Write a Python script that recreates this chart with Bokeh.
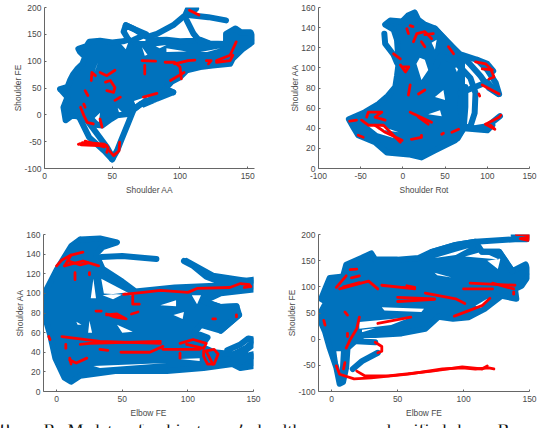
from bokeh.embed import file_html
from bokeh.resources import INLINE
from bokeh.plotting import figure
from bokeh.layouts import column, row
from bokeh.models import PrintfTickFormatter
from bokeh.core.properties import value

# ---------- Shoulder AA / Shoulder FE ----------
aa_fe_core = [(11.5,48),(17,52),(19,65),(21,75),(24,85),(28,95),(30,108),(26,118),(25,123),(31,128),(33,136),(41,138),(50,135),(58,137),(62,140),(69,132),(75,132),(78,139),(90,140),(100,137),(110,138),(115,140),(122,133),(134,132),(134,151),(141,161),(145,154),(152,154),(155,139),(152,133),(146,122),(139,105),(137,95),(124,92),(115,89),(105,83),(100,70),(94,62),(89,48),(95,42),(83,30),(71,20),(66,10),(63,2),(53.5,-1),(49,-8),(42.5,-20),(36,-18),(28,-5),(20.5,-1),(15.6,-10),(14,14),(17,33)]
aa_fe_holes = [[(55,136),(62,136),(60,122)],[(72,126),(76,112),(74,110)],[(90,124),(105,118),(90,117)],[(115,117),(130,124),(120,117)],[(66,26),(78,36),(68,14)],[(71,18),(83,24),(73,13)],[(54,13),(60,-2),(56,-4)],[(37,-6),(41,4),(40,-14)],[(38,88),(39.5,98),(37,80)],[(82,128),(90,130),(85,124)]]
aa_fe_blue = [[(25,-1),(33,-42),(44,-67),(50,-83)],[(29,-2),(46,-60),(50,-78)],[(50,-83),(53.5,-67),(56.5,-48),(62,-14),(66,11),(75,27)],[(62,140),(58.4,155),(60,167),(66,160),(75.5,145),(83,151),(95,167),(104,186),(106,198),(112,198),(106,186),(121,182),(134,176)],[(105,176),(110,151),(115,136),(121,133)],[(60,167),(66,160),(75,150),(66,140)],[(89,48),(95,42)]]
aa_fe_red = [[(25,-55),(31.5,-52),(44,-54.5),(47,-61),(46,-70)],[(27,-56),(44,-58)],[(26,-54),(44,-56)],[(28,-52),(46,-57)],[(30,-49),(44,-60)],[(55.5,-51),(55,-67),(51,-76),(48,-67)],[(41,-8),(42.5,-23)],[(26.6,14),(29,-1),(31.5,-14),(36,-17)],[(30,45),(32,36)],[(29,20),(30,14)],[(34.5,64),(35,79),(37.6,73)],[(41,79),(46,73),(52,83)],[(45,61),(48.6,64),(52,51),(51,42),(46,45)],[(52,27),(56,33)],[(72,101),(82,100)],[(74,92),(74,76)],[(89,98),(96,98),(100,89),(101,67)],[(96,95),(106,101),(111,102)],[(73,33),(83,40)],[(119.5,101),(123,101),(121,95)],[(127,101),(137,111),(141.5,136)],[(127,98),(137,101),(139,111)],[(107,195),(114,186)],[(93,64),(103,79)]]

# ---------- Shoulder Rot / Shoulder AA ----------
rot_aa_core = [(14,155),(6,152),(-1,146),(-15,147),(-21,143),(-11,138),(-7,128),(-5,105),(-7,92),(-9,81),(-18,72),(-29,64),(-45,56),(-64,49),(-58,40),(-53,33),(-33,26),(-19,16),(7,14),(22,11),(38,18),(62,28),(72,40),(68,60),(70,80),(70,105),(58,118),(50,128),(38,139),(26,143),(18,148)]
rot_aa_holes = [[(20,110),(26,108),(30,98),(22,88),(16,104)],[(30,54),(46,52),(44,58)],[(38,71),(48,78),(50,68)],[(-45,45),(-25,40),(-10,30),(-30,35)],[(-29,43),(-5,36),(-29,39)],[(62,100),(68,104),(64,96)],[(34,125),(40,128),(38,118)]]
rot_aa_blue = [[(65,30),(72,40),(100,38),(106,43)],[(70,42),(85,40),(100,42),(115,52)],[(80,42),(85,55),(86,75),(80,90),(62,106),(45,112),(38,100)],[(88,108),(100,98),(110,85),(114,74)],[(38,139),(60,120),(78,105),(92,92),(102,80),(113,74)],[(68,75),(100,86),(112,75)],[(70,113),(88,108),(100,104),(107,97)],[(-22,134),(-21,124),(-11,113),(-7,105)],[(72,40),(74,61),(74,81)]]
rot_aa_red = [[(4.6,139),(6.6,134)],[(8.6,142),(12,141)],[(12.5,126),(16.5,134),(26,136),(34,129)],[(26,133),(36,134)],[(22,126),(26,121)],[(-11,114),(-3,109)],[(-1,101),(7,101),(3,96),(-3,103)],[(8.6,83),(6.5,73)],[(18.5,74),(26,78)],[(8.6,56),(34,46)],[(18.5,51),(30,44)],[(-43,51),(-41,56),(-25,56),(-33,51),(-21,48)],[(-49,48),(-41,43),(-23,43),(-9,31),(-3,26)],[(-33,43),(-21,36),(-1,28)],[(-63,47),(-55,48)],[(-53,33),(-47,31)],[(10,29),(22,31),(22,33)],[(46,34),(48,35)],[(58,36),(66,39)],[(98,44),(114,51),(116,53)],[(98,44),(109,39),(104,43)],[(86,106),(98,104),(104,99),(108,91),(102,89)],[(94,99),(106,98)],[(94,83),(114,74)],[(54,121),(60,114)],[(90,74),(91,72)]]

# ---------- Elbow FE / Shoulder AA ----------
fe_aa_core = [(18,155),(33,156),(46,152),(35,147),(30,140),(35,125),(50,112),(60,102),(90,106),(125,108),(150,114),(150,104),(125,100),(112,92),(125,86),(137,87),(139,78),(125,62),(110,68),(105,60),(115,55),(110,46),(120,40),(135,38),(145,45),(151,52),(150,48),(135,33),(150,38),(150,26),(140,24),(134,28),(112,24),(84,21),(46,21),(18,16),(11,10),(6,14),(-1,34),(-5,58),(-10,81),(-10,98),(0,124),(11,148)]
fe_aa_holes = [[(34,115),(58,98),(36,100)],[(28,115),(30,95),(26,95)],[(89,78),(97,81),(96,74)],[(103,98),(110,98),(107,89)],[(79,88),(91,93),(91,87)],[(35,98),(53,101),(43,94)],[(15,71),(19,68),(16,68)],[(25,72),(27,60),(24,60)],[(46,68),(58,61),(50,60)],[(94,33),(109,34),(109,31)],[(28,26),(84,29),(33,24)]]
fe_aa_blue = [[(34,137),(50,138),(76,135)],[(97,133),(104,128),(114,117),(124,112),(150,113)],[(99,133),(119,118),(144,113)],[(130,42),(140,48),(146,54),(150,53)],[(140,30),(146,36),(150,36)],[(112,92),(125,86),(137,87)],[(139,78),(125,62)]]
fe_aa_red = [[(0,128),(4,134),(11,139)],[(6,128),(11,139),(20,142)],[(6,128),(20,133),(32,128)],[(9,133),(18,129),(24,131)],[(14,121),(14,114)],[(25,121),(25,119)],[(51,99),(66,101),(79,103),(100,101),(107,105),(132,106),(140,110),(147,109),(143,106),(148,107)],[(58,98),(58,89),(63,89)],[(30,82),(34,82)],[(38,78),(46,79),(53,74),(44,76),(38,79)],[(57,79),(62,81)],[(119,74),(121,74)],[(137,76),(137,78)],[(-6,56),(-5,53)],[(4,56),(33,51),(79,49)],[(18,48),(25,49),(79,51)],[(33,43),(39,42)],[(49,40),(71,40),(81,46)],[(7,48),(7,44)],[(10,32),(15,29),(23,34)],[(10,34),(11,28)],[(94,49),(104,53),(114,49),(112,44),(99,48)],[(81,43),(109,43)],[(94,39),(94,34)],[(112,41),(120,43),(123,38),(120,28),(115,28),(112,36),(112,41)],[(114,41),(119,28)]]

# ---------- Elbow FE / Shoulder FE ----------
fe_fe_core = [(-10,43),(-4,71),(-8,77),(-4,102),(-1.5,117),(8.6,120),(11,142),(22.6,155),(30,164),(33,152),(50,152),(66,155),(76,167),(94,180),(109,186),(114,167),(127,167),(137,130),(147,143),(150,124),(144,102),(139,96),(140,77),(129,83),(116,58),(104,42),(92,39),(81,43),(71,20),(53,11),(33,8),(24,8),(19,-1),(12,-17),(11,-54),(8.6,-82),(6,-85),(3.5,-54),(-1.5,-17),(-5,14)]
fe_fe_holes = [[(3.5,-23),(6,-67),(7,-23)],[(38,61),(70,58),(68,52),(40,55)],[(21,33),(35,36),(60,42),(45,27),(21,20)],[(23,18),(33,21),(23,13)],[(78,155),(94,167),(104,174),(94,161)],[(101,158),(114,167),(127,152)],[(78,127),(91,118),(80,122)],[(109,64),(118,77),(114,58)],[(118,150),(128,154),(126,134)]]
fe_fe_blue = [[(76,167),(94,180),(109,186),(139,191),(148,191)],[(138,199),(149,199)],[(114,167),(127,167),(137,130)],[(19,-4),(33,-6)],[(35,-26),(23,-42),(16,-57)]]
fe_fe_red = [[(3.5,99),(11,121)],[(6,96),(28,111),(35,96)],[(9,100),(21,108)],[(15,117),(21,121)],[(14,133),(19,134)],[(38,103),(63,96),(54,99)],[(57,102),(63,99)],[(100,96),(122,96)],[(105,107),(139,103)],[(122,107),(138,96)],[(50,80),(78,77)],[(50,72),(78,76)],[(71,88),(94,77),(101,68)],[(93,44),(114,64),(120,78)],[(138,90),(138,86)],[(-6,36),(-5,27)],[(10,52),(12,46)],[(21,42),(19,20),(14,-1),(11,-17)],[(12,11),(12,5)],[(35,30),(60,42)],[(3.5,-51),(6,-67),(17,-76),(30,-74),(58,-67),(84,-57),(99,-55),(109,-57),(119,-55),(123,-57)],[(19,-61),(25,-70),(43,-70),(76,-61),(99,-53),(114,-57),(118,-51)],[(33,-6),(38,-14),(38,-23),(35,-26)],[(10,-45),(9,-57)],[(140,200),(150,200),(149,189),(143,192),(149,195)]]

caption_words = ["10.", "R:", "M", "data", "of", "subject", "2,", "healthy,", "as", "classified", "by", "Bayes"]
caption_left = [-9, 43, 67, 90, 128, 150, 234, 257, 340, 378, 457, 497]

BLUE = "#0072BD"
RED = "#FF0000"
INK = "#4a4a4a"


def xs(path):
    return [pt[0] for pt in path]


def ys(path):
    return [pt[1] for pt in path]


def panel(xlabel, ylabel, xlim, ylim, xticks, yticks, core, holes, blue, red, w, h, borders):
    left, right, top, bottom = borders
    p = figure(width=w, height=h, x_range=xlim, y_range=ylim, output_backend="svg",
               toolbar_location=None, min_border_left=left, min_border_right=right,
               min_border_top=top, min_border_bottom=bottom)
    p.outline_line_color = None
    p.grid.visible = False
    p.xaxis.ticker = xticks
    p.yaxis.ticker = yticks
    for ax, label in ((p.xaxis, xlabel), (p.yaxis, ylabel)):
        ax.axis_label = label
        ax.formatter = PrintfTickFormatter(format="%d")
        ax.axis_label_text_font = "Liberation Sans"
        ax.axis_label_text_font_size = "8.4px"
        ax.axis_label_text_font_style = "normal"
        ax.axis_label_text_color = INK
        ax.major_label_text_font = "Liberation Sans"
        ax.major_label_text_font_size = "8.5px"
        ax.major_label_text_color = INK
        ax.axis_line_color = "#666666"
        ax.major_tick_line_color = "#666666"
        ax.major_tick_in = 2
        ax.major_tick_out = 0
        ax.minor_tick_line_color = None
    p.xaxis.major_label_standoff = 4
    p.xaxis.axis_label_standoff = 3
    p.yaxis.major_label_standoff = 3
    p.yaxis.axis_label_standoff = -2
    rings = [xs(core)] + [xs(hole) for hole in holes]
    rings_y = [ys(core)] + [ys(hole) for hole in holes]
    p.multi_polygons(xs=[[rings]], ys=[[rings_y]], fill_color=BLUE, line_color=None)
    paths = [core + core[:1]] + blue
    p.multi_line([xs(q) for q in paths], [ys(q) for q in paths], line_color=BLUE, line_width=6,
                 line_join="round", line_cap="round")
    p.multi_line([xs(q) for q in red], [ys(q) for q in red], line_color=RED, line_width=2.8,
                 line_join="round", line_cap="round")
    return p


p1 = panel("Shoulder AA", "Shoulder FE", (0, 155), (-100, 200), [0, 50, 100, 150], [-100, -50, 0, 50, 100, 150, 200],
           aa_fe_core, aa_fe_holes, aa_fe_blue, aa_fe_red, 268, 210, (44, 14, 7, 42))
p2 = panel("Shoulder Rot", "Shoulder AA", (-100, 150), (0, 160), [-100, -50, 0, 50, 100, 150], [0, 20, 40, 60, 80, 100, 120, 140, 160],
           rot_aa_core, rot_aa_holes, rot_aa_blue, rot_aa_red, 269, 210, (50, 8, 7, 42))
p3 = panel("Elbow FE", "Shoulder AA", (-10, 150), (0, 160), [0, 50, 100, 150], [0, 20, 40, 60, 80, 100, 120, 140, 160],
           fe_aa_core, fe_aa_holes, fe_aa_blue, fe_aa_red, 268, 210, (43, 15, 24, 26))
p4 = panel("Elbow FE", "Shoulder FE", (-10, 150), (-100, 200), [0, 50, 100, 150], [-100, -50, 0, 50, 100, 150, 200],
           fe_fe_core, fe_fe_holes, fe_fe_blue, fe_fe_red, 269, 210, (50, 8, 24, 26))

cap = figure(width=537, height=8, x_range=(0, 537), y_range=(0, 8), output_backend="svg", toolbar_location=None,
             min_border_left=0, min_border_right=0, min_border_top=0, min_border_bottom=0)
cap.axis.visible = False
cap.grid.visible = False
cap.outline_line_color = None
cap.text(x=caption_left, y=[12] * len(caption_left), text=caption_words, text_font=value("Liberation Serif"),
         text_font_size=value("18px"), text_color="#111111", text_baseline="top", text_align="left")

page = column(row(p1, p2, spacing=0), row(p3, p4, spacing=0), cap, spacing=0)
open("out.html", "w").write(file_html(page, INLINE))
